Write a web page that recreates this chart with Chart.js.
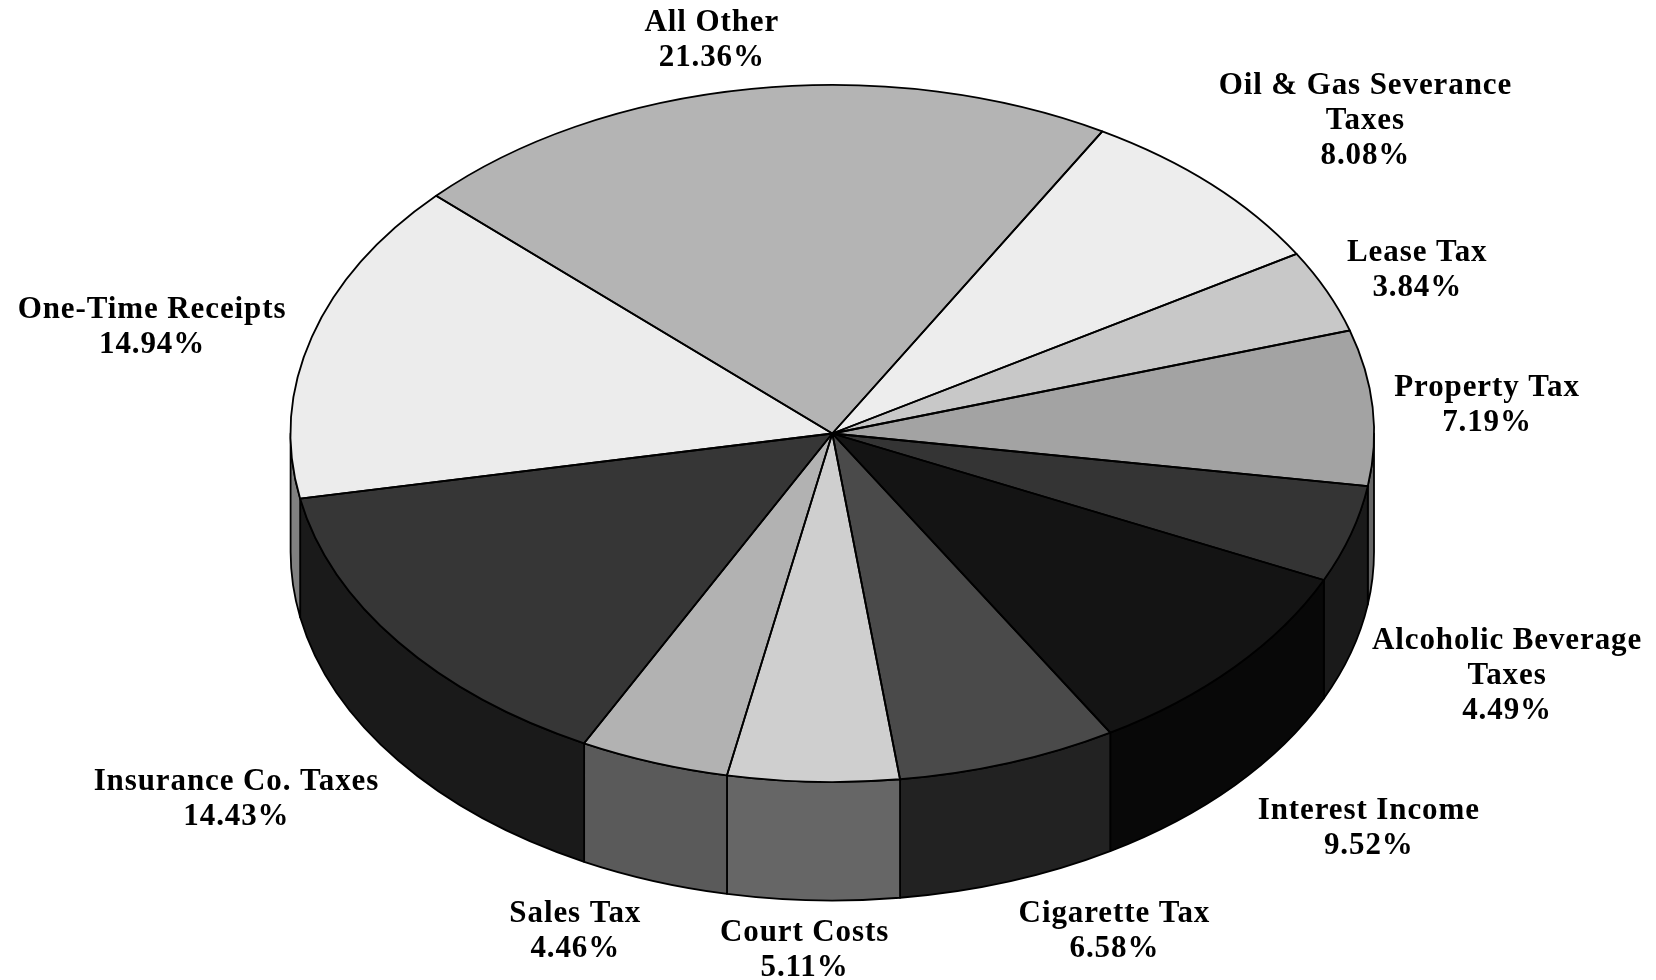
<!DOCTYPE html>
<html>
<head>
<meta charset="utf-8">
<style>
html,body{margin:0;padding:0;background:#fff;}
canvas{display:block;}
</style>
<script src="https://cdn.jsdelivr.net/npm/chart.js@4"></script>
</head>
<body>
<canvas id="c" width="1656" height="980"></canvas>
<script>
const categories = ["All Other","Oil & Gas Severance Taxes","Lease Tax","Property Tax","Alcoholic Beverage Taxes","Interest Income","Cigarette Tax","Court Costs","Sales Tax","Insurance Co. Taxes","One-Time Receipts"];
const shares = [21.36,8.08,3.84,7.19,4.49,9.52,6.58,5.11,4.46,14.43,14.94];
const topColors = ["#b4b4b4","#ededed","#c8c8c8","#a3a3a3","#343434","#141414","#4a4a4a","#cfcfcf","#b2b2b2","#363636","#ececec"];
const sideColors = ["#5a5a5a","#767676","#646464","#666666","#1a1a1a","#080808","#222222","#666666","#5a5a5a","#1a1a1a","#808080"];
const labelLines = [["All Other"],["Oil & Gas Severance","Taxes"],["Lease Tax"],["Property Tax"],["Alcoholic Beverage","Taxes"],["Interest Income"],["Cigarette Tax"],["Court Costs"],["Sales Tax"],["Insurance Co. Taxes"],["One-Time Receipts"]];
const labelNudges = [[-39.9,-47.9],[153.8,-63.6],[90.5,-20.2],[114.5,-1.7],[156.1,141.9],[133.9,161.4],[105.5,168.4],[-8.7,168.6],[-78.5,168.8],[-161.9,157.4],[-159.8,-8.9]];

const view = {cx:832.3, cy:433.5, rx:541.7, ry:348.5, depth:118.5, line:1.8};
const labelFont = 'bold 31px "Liberation Serif"';
const labelSpacing = '0.9px';
const labelLeading = 35;

const pie3d = {
  id:'pie3d',
  beforeDatasetsDraw(chart){
    const ctx = chart.ctx, arcs = chart.getDatasetMeta(0).data;
    ctx.save();
    ctx.lineWidth = view.line; ctx.strokeStyle = '#000'; ctx.lineJoin = 'round';
    arcs.forEach((arc,i)=>{
      const a0 = Math.max(arc.startAngle,0), a1 = Math.min(arc.endAngle,Math.PI);
      if(a1 <= a0) return;
      ctx.beginPath();
      ctx.ellipse(view.cx,view.cy,view.rx,view.ry,0,a0,a1,false);
      ctx.ellipse(view.cx,view.cy+view.depth,view.rx,view.ry,0,a1,a0,true);
      ctx.closePath();
      ctx.fillStyle = sideColors[i];
      ctx.fill(); ctx.stroke();
    });
    ctx.restore();
    const a = arcs[0];
    ctx.save();
    ctx.translate(view.cx,view.cy);
    ctx.scale(view.rx/a.outerRadius, view.ry/a.outerRadius);
    ctx.translate(-a.x,-a.y);
  },
  afterDatasetsDraw(chart){
    const ctx = chart.ctx, arcs = chart.getDatasetMeta(0).data;
    ctx.restore();
    ctx.save();
    ctx.lineWidth = view.line; ctx.strokeStyle = '#000'; ctx.lineJoin = 'round';
    arcs.forEach(arc=>{
      ctx.beginPath();
      ctx.moveTo(view.cx,view.cy);
      ctx.ellipse(view.cx,view.cy,view.rx,view.ry,0,arc.startAngle,arc.endAngle,false);
      ctx.closePath();
      ctx.stroke();
    });
    ctx.font = labelFont; ctx.fillStyle = '#000';
    ctx.letterSpacing = labelSpacing;
    ctx.textAlign = 'center'; ctx.textBaseline = 'middle';
    arcs.forEach((arc,i)=>{
      const mid = (arc.startAngle+arc.endAngle)/2;
      const x = view.cx+view.rx*Math.cos(mid)+labelNudges[i][0];
      const y = view.cy+view.ry*Math.sin(mid)+labelNudges[i][1];
      const lines = labelLines[i].concat(shares[i].toFixed(2)+'%');
      lines.forEach((t,k)=>ctx.fillText(t,x,y+(k-(lines.length-1)/2)*labelLeading));
    });
    ctx.restore();
  }
};

new Chart(document.getElementById('c'),{
  type:'pie',
  data:{labels:categories,datasets:[{data:shares,backgroundColor:topColors,borderWidth:0}]},
  options:{
    responsive:false,devicePixelRatio:1,animation:false,rotation:-47,
    layout:{padding:0},
    plugins:{legend:{display:false},tooltip:{enabled:false}}
  },
  plugins:[pie3d]
});
</script>
</body>
</html>
